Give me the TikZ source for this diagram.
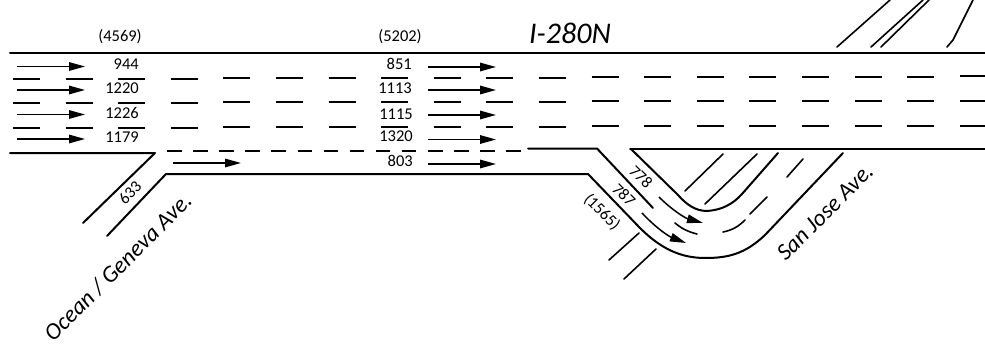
\documentclass[tikz,border=0pt]{standalone}
\usepackage{fontspec}
\setmainfont{Carlito}
\usetikzlibrary{arrows.meta}
\tikzset{
  road/.style={line width=2pt,line cap=round,line join=round},
  thin road/.style={line width=1.6pt,line cap=round,line join=round},
  lane/.style={line width=2pt},
  flow/.style={line width=1.5pt,-{Triangle[length=16pt,width=8.5pt]}},
  count/.style={font=\fontsize{16.5}{17}\selectfont,inner sep=0pt,anchor=mid east},
  turn/.style={font=\fontsize{16.5}{17}\selectfont,inner sep=0pt},
  street/.style={font=\fontsize{23.5}{24}\selectfont\itshape,inner sep=0pt},
}
\begin{document}
\begin{tikzpicture}[x=1pt,y=-1pt]
\useasboundingbox (0,0) rectangle (985,345);
% mainline edges
\draw[road] (10,53) -- (985,53);
\draw[road] (10,153) -- (155,153) -- (83,223);
\draw[road] (107,236) -- (166,174) -- (588,174) -- (640,228)
  .. controls (660,248) and (680,258) .. (705,258)
  .. controls (728,258) and (745,254) .. (765,235) -- (843,153);
\draw[road] (528,148.5) -- (597,148.5) -- (653,208);
\draw[road] (630,148.5) -- (985,148.5);
\draw[road] (631,149) -- (678,195)
  .. controls (686,204) and (695,211) .. (707,211)
  .. controls (722,210) and (733,204) .. (742,194) -- (778,153);
% lane dashes
\foreach \k in {0,...,18}{
  \pgfmathsetmacro{\xa}{13+52.6*\k}
  \pgfmathsetmacro{\xb}{\xa+27}
  \pgfmathsetmacro{\dy}{-2.5*\k/18}
  \draw[lane] (\xa,79+\dy) -- (\xb,79+\dy);
  \draw[lane] (\xa,103+\dy) -- (\xb,103+\dy);
  \draw[lane] (\xa,128+\dy) -- (\xb,128+\dy);
}
% auxiliary lane line
\foreach \k in {0,...,13}{
  \pgfmathsetmacro{\xa}{167+26.1*\k}
  \pgfmathsetmacro{\xb}{\xa+14.5}
  \draw[lane] (\xa,151) -- (\xb,151);
}
% flow arrows
\foreach \y in {66.5,90,114.5,139}{
  \draw[flow] (17,\y) -- (85,\y);
}
\draw[flow] (173,163) -- (241,163);
\foreach \y in {67,90,115,139.5,164}{
  \draw[flow] (428,\y) -- (496,\y);
}
\draw[flow] (659,197) .. controls (672,210) and (685,218) .. (703,223);
\draw[flow] (642,213) .. controls (655,227) and (668,236) .. (686,243);
% ramp details
\draw[thin road] (685,191) -- (723,154);
\draw[thin road] (705,204) -- (757,154);
\draw[thin road] (787,177) -- (803,159);
\draw[thin road] (750,214) -- (767,197);
\draw[thin road] (723,232) .. controls (733,230) and (739,226) .. (745,220);
\draw[thin road] (675,223) .. controls (682,229) and (689,232) .. (697,234);
\draw[thin road] (639,233) -- (609,260);
\draw[thin road] (656,249) -- (624,279);
\draw[thin road] (837,47) -- (890,0);
\draw[thin road] (871,47) -- (923,0);
\draw[thin road] (881,47) -- (929,0);
\draw[thin road] (947,47) -- (953,40) -- (973,0);
% labels
\node[turn] (tA) at (120,37) {(4569)};
\node[turn] (tB) at (400,37) {(5202)};
\node[street,font=\fontsize{30}{31}\selectfont\itshape] (hw) at (570,33) {I-280N};
\node[count] (a1) at (139,67.5) {944};
\node[count] (a2) at (139,91) {1220};
\node[count] (a3) at (139,116) {1226};
\node[count] (a4) at (139,140) {1179};
\node[count] (b1) at (412,67.5) {851};
\node[count] (b2) at (412,91) {1113};
\node[count] (b3) at (413,117) {1115};
\node[count] (b4) at (413,139) {1320};
\node[count] (b5) at (413,164) {803};
\node[turn,rotate=47] (r1) at (130,193) {633};
\node[turn,rotate=-45] (r2) at (641,177) {778};
\node[turn,rotate=-45] (r3) at (624,195) {787};
\node[turn,rotate=-45] (r4) at (602,212) {(1565)};
\node[street,rotate=45] (s1) at (118,267) {Ocean / Geneva Ave.};
\node[street,rotate=45] (s2) at (825,212) {San Jose Ave.};
\end{tikzpicture}
\end{document}
